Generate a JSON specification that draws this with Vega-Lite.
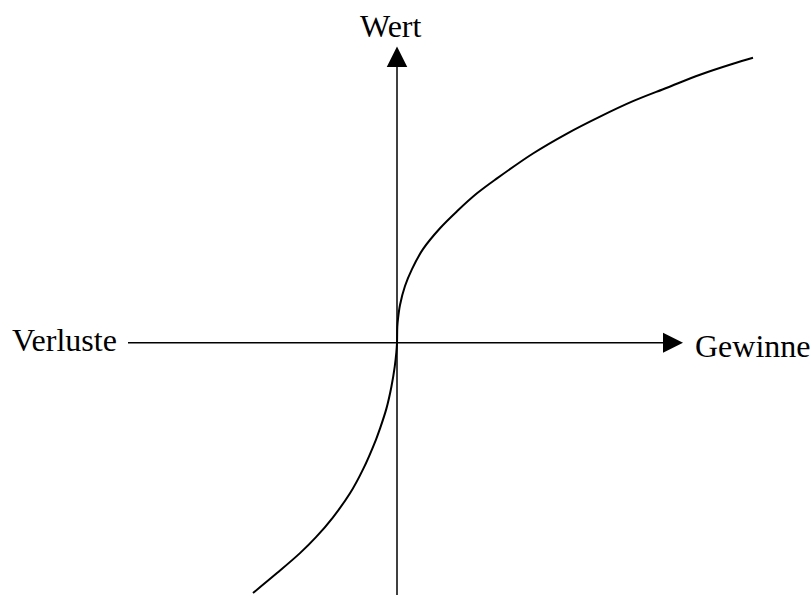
{
  "$schema": "https://vega.github.io/schema/vega-lite/v6.json",
  "width": 812,
  "height": 597,
  "autosize": {"type": "fit", "contains": "padding"},
  "padding": 0,
  "background": "white",
  "config": {"view": {"stroke": null}},
  "datasets": {
    "curve": [
      {"x": -144, "y": -251}, {"x": -120, "y": -231}, {"x": -97, "y": -211},
      {"x": -81, "y": -195}, {"x": -64, "y": -175}, {"x": -47, "y": -151},
      {"x": -34, "y": -127}, {"x": -21, "y": -97}, {"x": -17, "y": -86},
      {"x": -10.6, "y": -66}, {"x": -5.6, "y": -44}, {"x": -2.3, "y": -24},
      {"x": -0.7, "y": -10}, {"x": 0, "y": 0}, {"x": 0.3, "y": 16},
      {"x": 1, "y": 24}, {"x": 3, "y": 38}, {"x": 8, "y": 57},
      {"x": 15, "y": 74}, {"x": 26, "y": 94}, {"x": 43, "y": 115},
      {"x": 60, "y": 132}, {"x": 80, "y": 150}, {"x": 100, "y": 165},
      {"x": 136, "y": 190}, {"x": 170, "y": 210}, {"x": 203, "y": 227},
      {"x": 236, "y": 242.5}, {"x": 270, "y": 256}, {"x": 303, "y": 269},
      {"x": 336, "y": 280}, {"x": 356, "y": 286}
    ],
    "axes": [
      {"x": -269, "y": 0, "x2": 266, "y2": 0},
      {"x": 0, "y": -253, "x2": 0, "y2": 277}
    ],
    "arrowsUp": [{"x": 0, "y": 287}],
    "arrowsRight": [{"x": 276, "y": 0}],
    "labels": [
      {"x": -37, "y": 307, "label": "Wert"},
      {"x": -385, "y": -8, "label": "Verluste"},
      {"x": 298, "y": -14, "label": "Gewinne"}
    ]
  },
  "layer": [
    {
      "data": {"name": "axes"},
      "mark": {"type": "rule", "color": "black", "strokeWidth": 1.5},
      "encoding": {
        "x": {"field": "x", "type": "quantitative", "scale": {"domain": [-397, 415], "nice": false, "zero": false}, "axis": null},
        "y": {"field": "y", "type": "quantitative", "scale": {"domain": [-253, 344], "nice": false, "zero": false}, "axis": null},
        "x2": {"field": "x2"},
        "y2": {"field": "y2"}
      }
    },
    {
      "data": {"name": "arrowsUp"},
      "mark": {"type": "point", "shape": "M0,-1L1,1L-1,1Z", "filled": true, "color": "black", "opacity": 1, "size": 420, "strokeWidth": 0},
      "encoding": {
        "x": {"field": "x", "type": "quantitative"},
        "y": {"field": "y", "type": "quantitative"}
      }
    },
    {
      "data": {"name": "arrowsRight"},
      "mark": {"type": "point", "shape": "M1,0L-1,-1L-1,1Z", "filled": true, "color": "black", "opacity": 1, "size": 400, "strokeWidth": 0},
      "encoding": {
        "x": {"field": "x", "type": "quantitative"},
        "y": {"field": "y", "type": "quantitative"}
      }
    },
    {
      "data": {"name": "curve"},
      "mark": {"type": "line", "color": "black", "strokeWidth": 2, "interpolate": "catmull-rom"},
      "encoding": {
        "x": {"field": "x", "type": "quantitative"},
        "y": {"field": "y", "type": "quantitative"}
      }
    },
    {
      "data": {"name": "labels"},
      "mark": {"type": "text", "align": "left", "baseline": "alphabetic", "font": "Liberation Serif", "fontSize": 32, "color": "black"},
      "encoding": {
        "x": {"field": "x", "type": "quantitative"},
        "y": {"field": "y", "type": "quantitative"},
        "text": {"field": "label"}
      }
    }
  ]
}
